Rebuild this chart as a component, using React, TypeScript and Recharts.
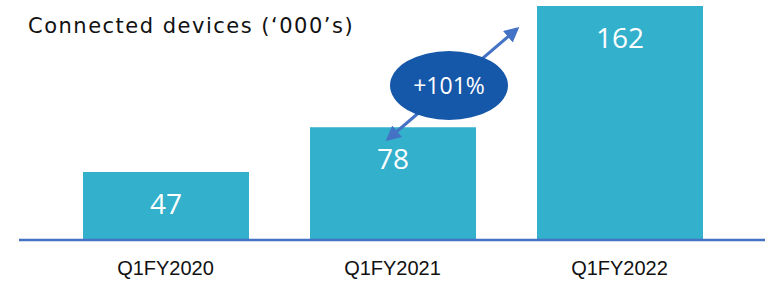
import { BarChart, Bar, XAxis, YAxis, LabelList } from 'recharts';

const quarters = ['Q1FY2020', 'Q1FY2021', 'Q1FY2022'];
const devices = [47, 78, 162];
const growthLabel = '+101%';
const title = 'Connected devices (\u2018000\u2019s)';

const data = quarters.map((q, i) => ({ quarter: q, devices: devices[i] }));

const geo = '"Open Sans", "DejaVu Sans", sans-serif';

export default function App() {
  return (
    <div style={{ position: 'absolute', left: 0, top: 0, width: 765, height: 281, background: '#fff' }}>
      <BarChart
        width={765}
        height={281}
        data={data}
        margin={{ top: 6, right: 0, left: 19, bottom: 0 }}
      >
        <XAxis
          dataKey="quarter"
          height={41}
          padding={{ left: 33, right: 32 }}
          axisLine={{ stroke: '#4472C4', strokeWidth: 2.5 }}
          tickLine={false}
          tickMargin={15}
          tick={{ fill: '#111', fontSize: 20, fontFamily: '"Liberation Sans", Arial, sans-serif' }}
        />
        <YAxis hide domain={[0, 162]} />
        <Bar dataKey="devices" fill="#33B0CC" barSize={166} isAnimationActive={false}>
          <LabelList
            dataKey="devices"
            position="insideTop"
            offset={22}
            fill="#fff"
            style={{ fontSize: 28, fontFamily: geo }}
          />
        </Bar>
      </BarChart>
      <svg width={765} height={281} style={{ position: 'absolute', left: 0, top: 0, pointerEvents: 'none' }}>
        <defs>
          <marker id="ah" viewBox="0 0 10 10" refX="8" refY="5" markerWidth="5" markerHeight="5" orient="auto-start-reverse">
            <path d="M0,0 L10,5 L0,10 z" fill="#4472C4" />
          </marker>
        </defs>
        <text x={28} y={33} fontSize={21} letterSpacing={1.5} fontFamily='"DejaVu Sans", sans-serif' fill="#111">
          {title}
        </text>
        <line
          x1={388}
          y1={139}
          x2={517}
          y2={29}
          stroke="#4472C4"
          strokeWidth={3}
          markerStart="url(#ah)"
          markerEnd="url(#ah)"
        />
        <ellipse cx={449} cy={85.5} rx={59} ry={34.5} fill="#1557A8" />
        <text x={449} y={94} textAnchor="middle" fontSize={23} fontFamily={geo} fill="#fff">
          {growthLabel}
        </text>
      </svg>
    </div>
  );
}
